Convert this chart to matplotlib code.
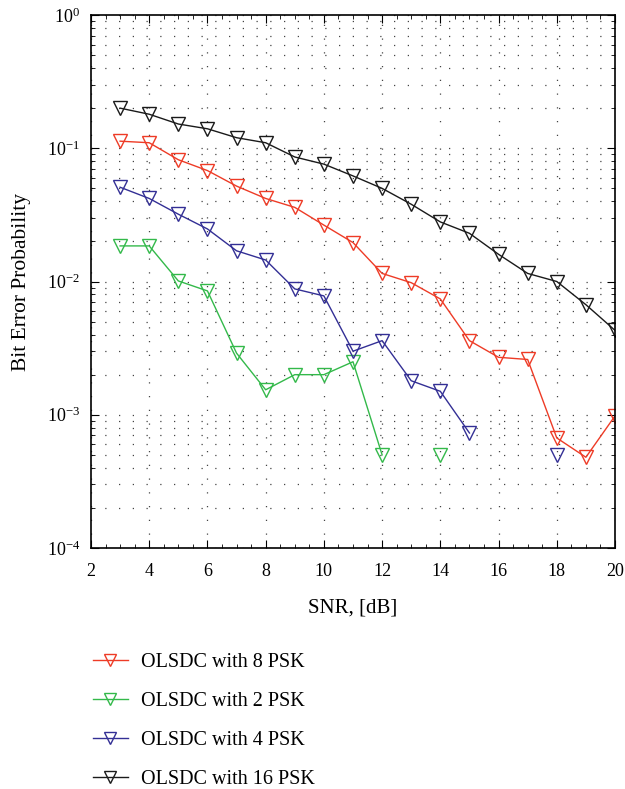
import numpy as np
import matplotlib
matplotlib.use('Agg')
from matplotlib import pyplot as plt
from matplotlib.ticker import LogLocator, NullFormatter, MultipleLocator

plt.rcParams['font.family'] = ['Liberation Serif', 'DejaVu Serif']
plt.rcParams['mathtext.fontset'] = 'stix'

nan = np.nan
snr = [3, 4, 5, 6, 7, 8, 9, 10, 11, 12, 13, 14, 15, 16, 17, 18, 19, 20]

ber_8psk = [0.113, 0.11, 0.082, 0.068, 0.052, 0.042, 0.036, 0.0265, 0.0196, 0.0115,
            0.0098, 0.0074, 0.0036, 0.0027, 0.0026, 0.00067, 0.00048, 0.00098]
ber_2psk = [0.0185, 0.0185, 0.0101, 0.0085, 0.0029, 0.00154, 0.0020, 0.0020, 0.0025, 0.0005,
            nan, 0.0005, nan, nan, nan, nan, nan, nan]
ber_4psk = [0.051, 0.042, 0.032, 0.0248, 0.017, 0.0145, 0.0088, 0.0078, 0.0030, 0.0036,
            0.0018, 0.0015, 0.00073, nan, nan, 0.0005, nan, nan]
ber_16psk = [0.20, 0.18, 0.152, 0.14, 0.12, 0.11, 0.086, 0.076, 0.062, 0.050,
             0.038, 0.028, 0.023, 0.016, 0.0115, 0.010, 0.0067, 0.0043]

series = [
    ('OLSDC with 8 PSK', ber_8psk, '#ee3b26'),
    ('OLSDC with 2 PSK', ber_2psk, '#33b94a'),
    ('OLSDC with 4 PSK', ber_4psk, '#332f95'),
    ('OLSDC with 16 PSK', ber_16psk, '#1a1a1a'),
]

fig = plt.figure(figsize=(6.25, 7.89), dpi=100)
ax = fig.add_axes([0.1456, 0.3054, 0.8384, 0.6756])

for name, vals, col in series:
    ax.semilogy(snr, vals, color=col, lw=1.0, marker='v', markersize=10,
                markerfacecolor='none', markeredgecolor=col, markeredgewidth=1.0,
                label=name)

ax.set_xlim(2, 20)
ax.set_ylim(1e-4, 1e0)
ax.xaxis.set_major_locator(MultipleLocator(2))
ax.xaxis.set_minor_locator(MultipleLocator(0.5))
ax.yaxis.set_major_locator(LogLocator(base=10, numticks=10))
ax.yaxis.set_minor_locator(LogLocator(base=10, subs=np.arange(2, 10), numticks=10))
ax.yaxis.set_minor_formatter(NullFormatter())

# dotted grid, matlab style
ax.grid(True, which='major', axis='both', color='#444444', linestyle=(0, (1, 10)), lw=0.9)
ax.grid(True, which='minor', axis='y', color='#444444', linestyle=(0, (1, 10)), lw=0.9)

ax.tick_params(which='both', direction='in', top=True, right=True, labelsize=13)
ax.tick_params(which='major', length=6)
ax.tick_params(which='minor', length=3)
ax.tick_params(axis='x', which='major', pad=11)
ax.tick_params(axis='y', which='major', pad=8)
for s in ax.spines.values():
    s.set_linewidth(1.2)

ax.set_xlabel('SNR, [dB]', fontsize=15, labelpad=13)
ax.set_ylabel('Bit Error Probability', fontsize=15.5, labelpad=11)

handles, labels = ax.get_legend_handles_labels()
fig.legend(handles, labels, loc='upper left', bbox_to_anchor=(0.119, 0.196),
           frameon=False, fontsize=14.5, handlelength=1.75, labelspacing=1.0,
           handletextpad=0.65, markerscale=0.8)

fig.savefig('out.png', dpi=100)
